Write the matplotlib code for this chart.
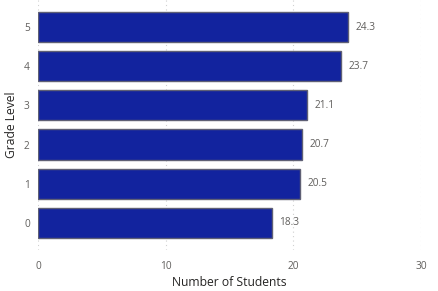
import matplotlib.pyplot as plt

# data
grades = ['0', '1', '2', '3', '4', '5']
students = [18.3, 20.5, 20.7, 21.1, 23.7, 24.3]

plt.rcParams['font.family'] = ['Open Sans', 'DejaVu Sans']

fig = plt.figure(figsize=(4.38, 2.91), dpi=100)
ax = fig.add_axes([0.087, 0.141, 0.874, 0.859])

ypos = range(len(grades))
bars = ax.barh(ypos, students, height=0.77, color='#12239E',
               edgecolor='#5F6075', linewidth=1.0, zorder=3)

# value labels
for y, v in zip(ypos, students):
    ax.text(v + 0.6, y, f'{v:.1f}', va='center', ha='left',
            fontsize=7.3, color='#605E5C')

ax.set_xlim(0, 30)
ax.set_ylim(-0.69, 5.69)
ax.set_xticks([0, 10, 20, 30])
ax.set_yticks(list(ypos))
ax.set_yticklabels(grades)

# dotted vertical grid
ax.grid(axis='x', linestyle=(0, (1, 3)), color='#D0D0D0', linewidth=0.8, zorder=0)
for s in ax.spines.values():
    s.set_visible(False)
ax.tick_params(length=0, labelsize=7.3, colors='#605E5C', pad=8)
ax.tick_params(axis='y', pad=6)

ax.set_xlabel('Number of Students', fontsize=8.7, color='#252423', labelpad=3)
ax.set_ylabel('Grade Level', fontsize=8.7, color='#252423', labelpad=4)

fig.savefig('out.png', dpi=100)
